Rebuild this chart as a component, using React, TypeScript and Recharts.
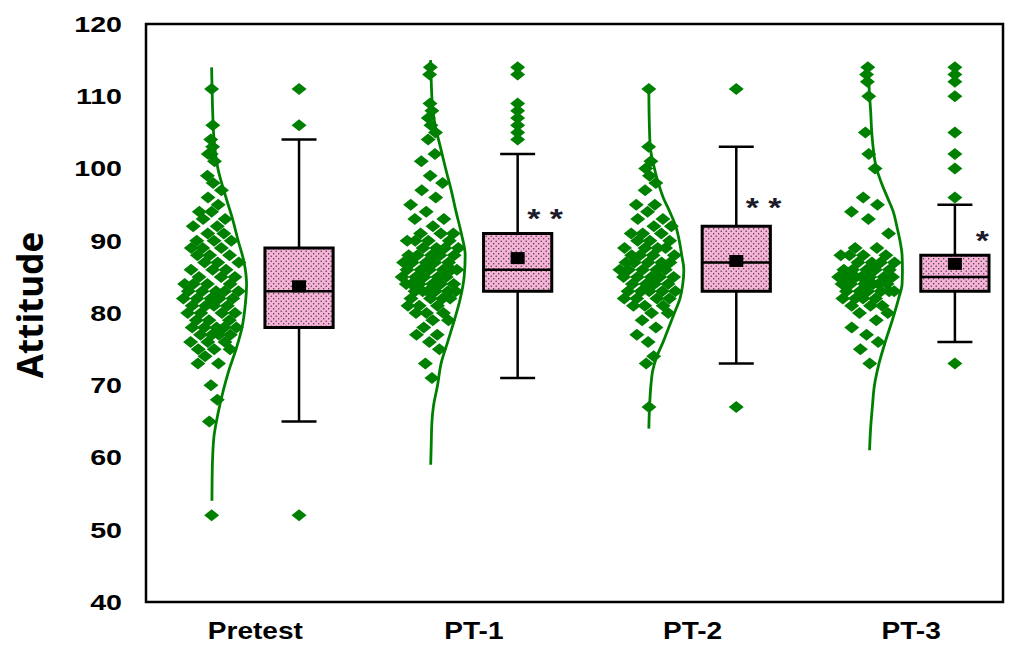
import React from "react";
import {ComposedChart, Scatter, XAxis, YAxis, ReferenceArea, ReferenceLine} from "recharts";

const groups = ["Pretest", "PT-1", "PT-2", "PT-3"];
const yTicks = [40, 50, 60, 70, 80, 90, 100, 110, 120];

// attitude scores per test (jittered clouds)
const pretestScores = [52, 65, 68, 70, 73, 73, 74, 75, 75, 75, 76, 76, 76, 77, 77, 77, 77, 78, 78, 78, 78, 78, 79, 79, 79, 80, 80, 80, 80, 81, 81, 81, 81, 82, 82, 82, 82, 82, 83, 83, 83, 83, 83, 84, 84, 84, 84, 85, 85, 85, 86, 86, 86, 87, 87, 87, 88, 88, 88, 89, 89, 89, 90, 90, 90, 91, 91, 92, 92, 93, 93, 94, 94, 95, 96, 97, 98, 99, 101, 102, 102, 103, 104, 106, 111];
const pt1Scores = [71, 73, 75, 76, 77, 77, 78, 79, 79, 80, 80, 80, 81, 81, 81, 82, 82, 82, 82, 83, 83, 83, 83, 83, 83, 84, 84, 84, 84, 84, 84, 85, 85, 85, 85, 85, 86, 86, 86, 86, 86, 86, 87, 87, 87, 87, 87, 88, 88, 88, 88, 88, 89, 89, 89, 89, 90, 90, 90, 90, 91, 91, 91, 92, 93, 93, 94, 95, 96, 97, 98, 99, 101, 102, 104, 105, 106, 107, 108, 109, 113, 114];
const pt2Scores = [67, 73, 74, 76, 77, 78, 79, 80, 80, 81, 81, 81, 82, 82, 82, 82, 83, 83, 83, 83, 83, 84, 84, 84, 84, 85, 85, 85, 85, 85, 86, 86, 86, 86, 86, 87, 87, 87, 87, 87, 88, 88, 88, 88, 89, 89, 89, 89, 90, 90, 90, 91, 91, 91, 92, 92, 93, 93, 94, 95, 95, 97, 98, 99, 100, 101, 103, 111];
const pt3Scores = [73, 75, 76, 77, 78, 79, 80, 80, 81, 81, 81, 82, 82, 82, 82, 83, 83, 83, 83, 83, 83, 84, 84, 84, 84, 84, 84, 85, 85, 85, 85, 85, 85, 85, 86, 86, 86, 86, 86, 87, 87, 87, 87, 88, 88, 88, 88, 89, 89, 91, 93, 94, 95, 96, 100, 102, 105, 110, 112, 113, 114];

// box plot summaries
const lowWhisker = [65, 71, 73, 76];
const q1 = [78, 83, 83, 83];
const median = [83, 86, 87, 85];
const q3 = [89, 91, 92, 88];
const highWhisker = [104, 102, 103, 95];
const means = [83.7, 87.6, 87.2, 86.8];
const pretestOutliers = [52, 106, 111];
const pt1Outliers = [104, 105, 106, 107, 108, 109, 113, 114];
const pt2Outliers = [67, 111];
const pt3Outliers = [73, 96, 100, 102, 105, 110, 112, 113, 114];

// density outline, relative height at score levels
const pretestLevels = [54, 57, 60, 63, 66, 69, 72, 75, 78, 81, 84, 87, 90, 93, 96, 100, 104, 108, 111, 114];
const pretestDensity = [0.01, 0.015, 0.03, 0.07, 0.18, 0.32, 0.49, 0.7, 0.87, 0.96, 1.0, 0.93, 0.76, 0.6, 0.41, 0.18, 0.07, 0.03, 0.015, 0];
const pt1Levels = [59, 62, 65, 67, 70, 73, 76, 79, 82, 85, 88, 91, 94, 97, 100, 103, 106, 109, 112, 115];
const pt1Density = [0.014, 0.03, 0.05, 0.09, 0.21, 0.31, 0.5, 0.69, 0.86, 0.97, 1.0, 0.89, 0.74, 0.6, 0.44, 0.29, 0.14, 0.06, 0.03, 0.01];
const pt2Levels = [64, 67, 70, 72, 74, 76, 78, 80, 82, 84, 86, 88, 90, 92, 94, 96, 98, 100, 103, 107, 111];
const pt2Density = [0, 0.02, 0.06, 0.11, 0.23, 0.41, 0.57, 0.73, 0.89, 0.97, 1.0, 0.94, 0.87, 0.77, 0.6, 0.41, 0.27, 0.16, 0.04, 0.01, 0];
const pt3Levels = [61, 64, 67, 70, 73, 76, 79, 82, 84, 86, 88, 90, 92, 94, 96, 98, 100, 104, 108, 111, 114];
const pt3Density = [0.06, 0.09, 0.14, 0.2, 0.33, 0.51, 0.71, 0.89, 0.99, 1.0, 0.99, 0.93, 0.84, 0.74, 0.57, 0.4, 0.26, 0.14, 0.09, 0.05, 0.03];

// significance vs pretest
const sigLabels = ["", "* *", "* *", "*"];
const sigScore = [0, 93.8, 95.4, 90.8];

const scoreSets = [pretestScores, pt1Scores, pt2Scores, pt3Scores];
const outlierSets = [pretestOutliers, pt1Outliers, pt2Outliers, pt3Outliers];
const levelSets = [pretestLevels, pt1Levels, pt2Levels, pt3Levels];
const densitySets = [pretestDensity, pt1Density, pt2Density, pt3Density];

const GREEN = "#008000";
const CLOUD_SHIFT = -0.2;
const BOX_SHIFT = 0.2;
const BOX_HALF = 0.156;
const CAP_HALF = 0.08;
const CURVE_WIDTH = 0.16;
const JITTER = 0.85;
const FONT = "'Liberation Sans', Arial, sans-serif";

function densityAt(levels: number[], dens: number[], v: number) {
	if (v <= levels[0]) return dens[0];
	for (let k = 1; k < levels.length; k++) {
		if (v <= levels[k]) {
			const t = (v - levels[k - 1]) / (levels[k] - levels[k - 1]);
			return dens[k - 1] + t * (dens[k] - dens[k - 1]);
		}
	}
	return dens[dens.length - 1];
}

const cloudPoints = scoreSets.flatMap((scores, g) =>
	scores.map((y, i) => {
		const u = (((i + 1) * 0.6180339887) % 1) * 2 - 1;
		const w = densityAt(levelSets[g], densitySets[g], y) * CURVE_WIDTH * JITTER;
		return {x: g + 1 + CLOUD_SHIFT + u * w, y};
	})
);
const outlierPoints = outlierSets.flatMap((vals, g) => vals.map((y) => ({x: g + 1 + BOX_SHIFT, y})));
const meanPoints = means.map((y, g) => ({x: g + 1 + BOX_SHIFT, y}));
const curveSets = levelSets.map((levels, g) =>
	levels.map((y, k) => ({x: g + 1 + CLOUD_SHIFT + densitySets[g][k] * CURVE_WIDTH, y}))
);
const sigPoints = sigLabels
	.map((label, g) => ({x: g + 1 + BOX_SHIFT + 0.125, y: sigScore[g], label}))
	.filter((p) => p.label !== "");

const Diamond = ({cx, cy}: any) => (
	<polygon
		points={`${cx},${cy - 6} ${cx + 7.5},${cy} ${cx},${cy + 6} ${cx - 7.5},${cy}`}
		fill={GREEN}
	/>
);
const MeanSquare = ({cx, cy}: any) => <rect x={cx - 7} y={cy - 6} width={14} height={12} fill='#000' />;
const NoDot = () => <g />;
const SigMark = ({cx, cy, payload}: any) => (
	<g transform={`translate(${cx},${cy}) scale(1.25,1)`}>
		<text textAnchor='middle' y={15} fontFamily={FONT} fontWeight='bold' fontSize={27} fill='#1b1b2a'>
			{payload.label}
		</text>
	</g>
);

const YTick = ({x, y, payload}: any) => (
	<g transform={`translate(${x},${y}) scale(1.3,1)`}>
		<text textAnchor='end' dy='0.36em' fontFamily={FONT} fontWeight='bold' fontSize={22} fill='#000'>
			{payload.value}
		</text>
	</g>
);
const XTick = ({x, y, payload}: any) => (
	<g transform={`translate(${x},${y}) scale(1.22,1)`}>
		<text textAnchor='middle' y={37} fontFamily={FONT} fontWeight='bold' fontSize={23} fill='#000'>
			{groups[payload.value - 1]}
		</text>
	</g>
);

export default function App() {
	return (
		<div style={{position: "absolute", left: 0, top: 0, background: "#fff"}}>
			<ComposedChart width={1016} height={646} margin={{top: 24, right: 13, bottom: 0, left: 0}}>
				<defs>
					<pattern id='pinkDots' width='5' height='5' patternUnits='userSpaceOnUse'>
						<rect width='5' height='5' fill='#F7B2D8' />
						<circle cx='1.2' cy='1.2' r='0.7' fill='#333' />
						<circle cx='3.7' cy='3.7' r='0.7' fill='#333' />
					</pattern>
				</defs>
				<XAxis
					type='number'
					dataKey='x'
					domain={[0.5, 4.42]}
					allowDataOverflow
					ticks={[1, 2, 3, 4]}
					tick={<XTick />}
					tickLine={false}
					axisLine={false}
					tickSize={0}
					tickMargin={0}
					height={44}
				/>
				<YAxis
					type='number'
					dataKey='y'
					domain={[40, 120]}
					allowDataOverflow
					ticks={yTicks}
					tick={<YTick />}
					tickLine={false}
					axisLine={false}
					tickSize={0}
					tickMargin={24}
					width={146}
				/>
				<ReferenceArea x1={0.5} x2={4.42} y1={40} y2={120} fill='none' stroke='#000' strokeWidth={2.5} />
				{groups.flatMap((g, i) => {
					const bx = i + 1 + BOX_SHIFT;
					return [
						<ReferenceLine key={g + "u"} segment={[{x: bx, y: q3[i]}, {x: bx, y: highWhisker[i]}]} stroke='#000' strokeWidth={2.5} />,
						<ReferenceLine key={g + "l"} segment={[{x: bx, y: q1[i]}, {x: bx, y: lowWhisker[i]}]} stroke='#000' strokeWidth={2.5} />,
						<ReferenceLine key={g + "uc"} segment={[{x: bx - CAP_HALF, y: highWhisker[i]}, {x: bx + CAP_HALF, y: highWhisker[i]}]} stroke='#000' strokeWidth={2.5} />,
						<ReferenceLine key={g + "lc"} segment={[{x: bx - CAP_HALF, y: lowWhisker[i]}, {x: bx + CAP_HALF, y: lowWhisker[i]}]} stroke='#000' strokeWidth={2.5} />,
						<ReferenceArea key={g + "b"} x1={bx - BOX_HALF} x2={bx + BOX_HALF} y1={q1[i]} y2={q3[i]} fill='url(#pinkDots)' fillOpacity={1} stroke='#000' strokeWidth={3} />,
						<ReferenceLine key={g + "m"} segment={[{x: bx - BOX_HALF, y: median[i]}, {x: bx + BOX_HALF, y: median[i]}]} stroke='#000' strokeWidth={2.5} />,
					];
				})}
				{curveSets.map((pts, g) => (
					<Scatter
						key={groups[g] + "curve"}
						data={pts}
						fill='none'
						line={{stroke: GREEN, strokeWidth: 2.8}}
						lineJointType='monotoneY'
						shape={<NoDot />}
						isAnimationActive={false}
					/>
				))}
				<Scatter data={cloudPoints} shape={<Diamond />} isAnimationActive={false} />
				<Scatter data={outlierPoints} shape={<Diamond />} isAnimationActive={false} />
				<Scatter data={meanPoints} shape={<MeanSquare />} isAnimationActive={false} />
				<Scatter data={sigPoints} shape={<SigMark />} isAnimationActive={false} />
				<text
					x={43}
					y={305}
					transform='rotate(-90 43 305)'
					textAnchor='middle'
					fontFamily="'Open Sans', sans-serif"
					fontWeight={700}
					fontSize={35}
					fill='#000'
				>
					Attitude
				</text>
			</ComposedChart>
		</div>
	);
}
